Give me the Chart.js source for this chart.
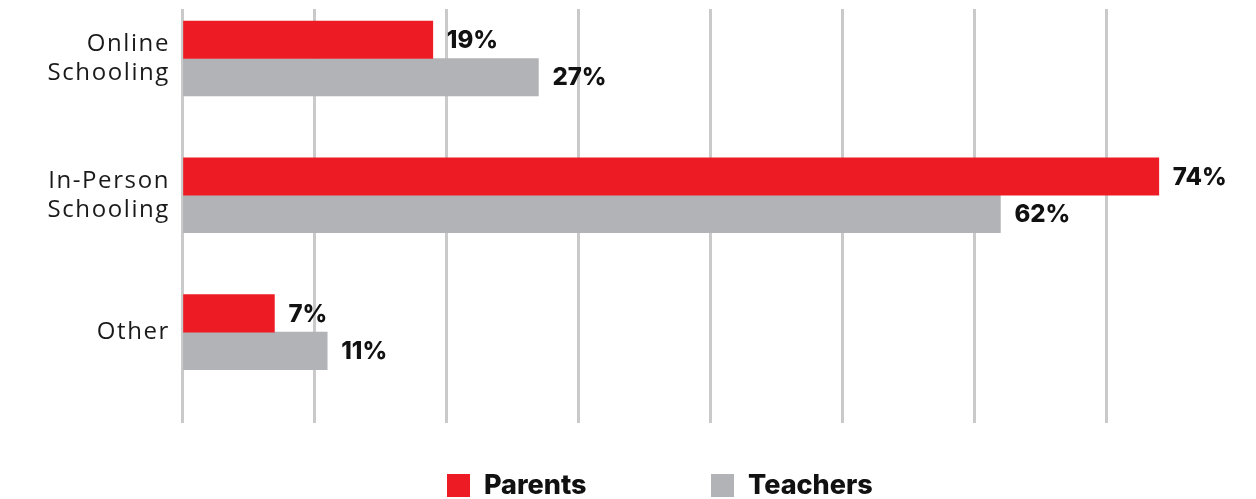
<!DOCTYPE html>
<html>
<head>
<meta charset="utf-8">
<script src="https://cdn.jsdelivr.net/npm/chart.js@4"></script>
<style>
  html, body { margin: 0; padding: 0; background: #fff; }
  #wrap { width: 1256px; height: 499px; }
</style>
</head>
<body>
<div id="wrap"><canvas id="chart"></canvas></div>
<script>
// survey answers, percent
const categories = [['Online', 'Schooling'], ['In-Person', 'Schooling'], ['Other']];
const seriesNames = ['Parents', 'Teachers'];
const parents = [19, 74, 7];
const teachers = [27, 62, 11];
const xTicks = [0, 10, 20, 30, 40, 50, 60, 70];

const colors = ['#ED1C24', '#B1B3B6'];
const boldFont = 'Inter';
const axisFont = 'Open Sans';

// bars sit on a linear index axis so the bands can be placed freely
const toPoints = (values) => values.map((v, i) => ({ x: v, y: i }));

// the category names are set a little wider than the font's default spacing
const axisSpacing = {
  id: 'axisSpacing',
  beforeDraw(chart) { chart.ctx.letterSpacing = '1.6px'; },
  beforeDatasetsDraw(chart) { chart.ctx.letterSpacing = '0px'; },
};

// percent labels just past the end of each bar
const valueLabels = {
  id: 'valueLabels',
  afterDatasetsDraw(chart) {
    const ctx = chart.ctx;
    ctx.save();
    ctx.letterSpacing = '0px';
    ctx.font = `800 24px ${boldFont}`;
    ctx.fillStyle = '#111';
    ctx.textAlign = 'left';
    ctx.textBaseline = 'middle';
    chart.data.datasets.forEach((ds, di) => {
      chart.getDatasetMeta(di).data.forEach((bar, i) => {
        ctx.fillText(ds.data[i].x + '%', bar.x + 14, bar.y + 1);
      });
    });
    ctx.restore();
  }
};

// legend row under the plot
const legendRow = {
  id: 'legendRow',
  afterDraw(chart) {
    const ctx = chart.ctx;
    ctx.save();
    ctx.letterSpacing = '0px';
    ctx.font = `800 27px ${boldFont}`;
    ctx.textBaseline = 'middle';
    chart.data.datasets.forEach((ds, i) => {
      const x = 447 + i * 264;
      ctx.fillStyle = ds.backgroundColor;
      ctx.fillRect(x, 474, 23, 23);
      ctx.fillStyle = '#111';
      ctx.fillText(ds.label, x + 37, 486);
    });
    ctx.restore();
  }
};

new Chart(document.getElementById('chart'), {
  type: 'bar',
  data: {
    datasets: [
      { label: seriesNames[0], data: toPoints(parents), backgroundColor: colors[0] },
      { label: seriesNames[1], data: toPoints(teachers), backgroundColor: colors[1] },
    ],
  },
  options: {
    indexAxis: 'y',
    responsive: true,
    maintainAspectRatio: false,
    animation: false,
    barThickness: 37.5,
    layout: { padding: { top: 9, right: 18, bottom: 76, left: 0 } },
    plugins: {
      legend: { display: false },
      tooltip: { enabled: false },
    },
    scales: {
      x: {
        type: 'linear',
        min: 0,
        max: 80,
        afterBuildTicks: (axis) => { axis.ticks = xTicks.map((v) => ({ value: v })); },
        ticks: { display: false },
        grid: { color: '#cacaca', lineWidth: 3, drawTicks: false },
        border: { display: false },
      },
      y: {
        type: 'linear',
        reverse: true,
        offset: false,
        min: -0.362,
        max: 2.665,
        afterBuildTicks: (axis) => { axis.ticks = categories.map((_, i) => ({ value: i })); },
        afterFit: (axis) => {
          axis.width = 182;
          axis.paddingTop = 0;
          axis.paddingBottom = 0;
        },
        ticks: {
          padding: 12,
          color: '#1a1a1a',
          font: { family: axisFont, size: 24, weight: 400, lineHeight: 1.2 },
          callback: (v) => categories[v],
        },
        grid: { display: false, drawTicks: false },
        border: { display: false },
      },
    },
  },
  plugins: [axisSpacing, valueLabels, legendRow],
});
</script>
</body>
</html>
